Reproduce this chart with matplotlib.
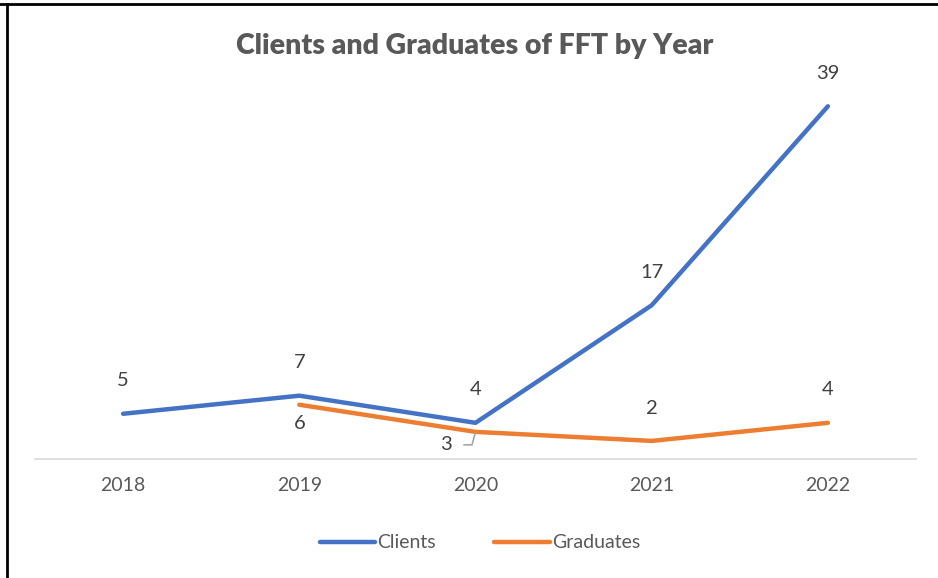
import matplotlib.pyplot as plt
from matplotlib.lines import Line2D

years = ['2018', '2019', '2020', '2021', '2022']
clients = [5, 7, 4, 17, 39]
grad_years = ['2019', '2020', '2021', '2022']
graduates = [6, 3, 2, 4]

BLUE = '#4472C4'
ORANGE = '#ED7D31'
TEXT = '#595959'

plt.rcParams['font.family'] = ['Lato', 'DejaVu Sans']

fig = plt.figure(figsize=(9.38, 5.78), dpi=100)
W, H = 938, 578
ax = fig.add_axes([35 / W, 119 / H, 881 / W, 407 / H])

x_c = [years.index(y) for y in years]
x_g = [years.index(y) for y in grad_years]

ax.plot(x_c, clients, color=BLUE, linewidth=3.2, solid_capstyle='round', label='Clients')
ax.plot(x_g, graduates, color=ORANGE, linewidth=3.2, solid_capstyle='round', label='Graduates')

ax.set_xlim(-0.5, len(years) - 0.5)
ax.set_ylim(0, 45)
ax.set_xticks(x_c)
ax.set_xticklabels(years, fontsize=14, color=TEXT)
ax.set_yticks([])
ax.tick_params(axis='x', length=0, pad=13)
for side in ['top', 'left', 'right']:
    ax.spines[side].set_visible(False)
ax.spines['bottom'].set_color('#D9D9D9')
ax.spines['bottom'].set_linewidth(1.2)

# data labels for clients (above)
for x, v in zip(x_c, clients):
    ax.annotate(str(v), (x, v), xytext=(0, 33), textcoords='offset pixels',
                ha='center', va='center', fontsize=14.5, color='#404040')

# data labels for graduates
grad_offsets = [(0, -19), None, (0, 32), (0, 33)]
for x, v, off in zip(x_g, graduates, grad_offsets):
    if off is None:
        ax.annotate(str(v), (x, v), xytext=(-30, -13), textcoords='offset pixels',
                    ha='center', va='center', fontsize=14.5, color='#404040',
                    arrowprops=dict(arrowstyle='-', color='#A6A6A6', lw=1.2,
                                    shrinkA=7, shrinkB=1,
                                    connectionstyle='angle,angleA=0,angleB=75,rad=0'))
    else:
        ax.annotate(str(v), (x, v), xytext=off, textcoords='offset pixels',
                    ha='center', va='center', fontsize=14.5, color='#404040')

fig.text(475 / W, 1 - 46 / H, 'Clients and Graduates of FFT by Year', ha='center', va='center',
         fontsize=20.5, fontweight='heavy', color=TEXT)

handles = [Line2D([0], [0], color=BLUE, lw=3.2, solid_capstyle='round'),
           Line2D([0], [0], color=ORANGE, lw=3.2, solid_capstyle='round')]
fig.legend(handles, ['Clients', 'Graduates'], loc='center', bbox_to_anchor=(480 / W, 1 - 543 / H),
           ncol=2, frameon=False, fontsize=14, handlelength=2.85, handletextpad=0.1,
           columnspacing=3.0, labelcolor=TEXT)

# screenshot border (top and left edges)
fig.add_artist(Line2D([0, 1], [1 - 4 / H, 1 - 4 / H], color='black', lw=2, transform=fig.transFigure))
fig.add_artist(Line2D([7 / W, 7 / W], [0, 1 - 4 / H], color='black', lw=2, transform=fig.transFigure))

fig.savefig('out.png', dpi=100)
